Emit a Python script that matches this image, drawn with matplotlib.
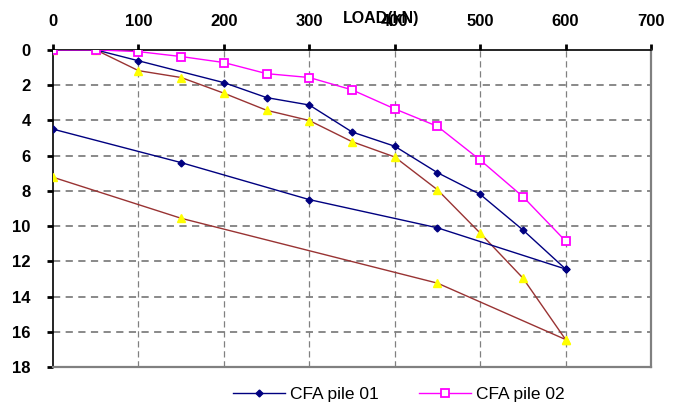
import matplotlib
matplotlib.use('Agg')
import matplotlib.pyplot as plt
from matplotlib.lines import Line2D

plt.rcParams['font.family'] = ['Liberation Sans', 'DejaVu Sans']

# Load steps (kN) and settlements (mm)
load_pile01 = [0, 50, 100, 200, 250, 300, 350, 400, 450, 500, 550, 600]
settle_pile01 = [0, 0, 0.62, 1.86, 2.71, 3.13, 4.66, 5.47, 6.97, 8.2, 10.22, 12.44]
unload_pile01 = [600, 450, 300, 150, 0]
rebound_pile01 = [12.44, 10.1, 8.5, 6.4, 4.5]

load_pile02 = [0, 50, 100, 150, 200, 250, 300, 350, 400, 450, 500, 550, 600]
settle_pile02 = [0, 0, 0.1, 0.38, 0.72, 1.35, 1.57, 2.27, 3.35, 4.34, 6.25, 8.33, 10.85]

load_pile03 = [0, 50, 100, 150, 200, 250, 300, 350, 400, 450, 500, 550, 600]
settle_pile03 = [0, 0, 1.18, 1.57, 2.46, 3.43, 4.01, 5.21, 6.08, 7.94, 10.4, 12.95, 16.44]
unload_pile03 = [600, 450, 150, 0]
rebound_pile03 = [16.44, 13.24, 9.56, 7.23]

x_ticks = [0, 100, 200, 300, 400, 500, 600, 700]
y_ticks = [0, 2, 4, 6, 8, 10, 12, 14, 16, 18]

navy = '#000080'
pink = '#FF00FF'
brown = '#993333'

fig = plt.figure(figsize=(6.78, 4.03), dpi=100, facecolor='white')
ax = fig.add_axes([0.0782, 0.0893, 0.882, 0.787])

ax.plot(load_pile03, settle_pile03, color=brown, lw=1.0, marker='^', ms=6,
        mfc='#FFFF00', mec='#FFFF00', zorder=3)
ax.plot(unload_pile03, rebound_pile03, color=brown, lw=1.0, marker='^', ms=6,
        mfc='#FFFF00', mec='#FFFF00', zorder=3)
ax.plot(load_pile01, settle_pile01, color=navy, lw=1.0, marker='D', ms=3.5,
        mfc=navy, mec=navy, zorder=4)
ax.plot(unload_pile01, rebound_pile01, color=navy, lw=1.0, marker='D', ms=3.5,
        mfc=navy, mec=navy, zorder=4)
ax.plot(load_pile02, settle_pile02, color=pink, lw=1.0, marker='s', ms=6,
        mfc='white', mec=pink, mew=1.3, zorder=5)

ax.set_xlim(0, 700)
ax.set_ylim(18, 0)
ax.set_xticks(x_ticks)
ax.set_yticks(y_ticks)
ax.xaxis.tick_top()
ax.tick_params(axis='both', which='major', direction='out', length=4, width=2,
               color='black', labelsize=12)
ax.tick_params(axis='x', pad=11)
ax.tick_params(axis='y', pad=12)
for lbl in ax.get_xticklabels() + ax.get_yticklabels():
    lbl.set_fontweight('bold')

# dashed grid
for y in y_ticks[1:-1]:
    ax.axhline(y, color='#808080', lw=1.3, ls=(0, (4, 3)), zorder=1)
for x in x_ticks[1:-1]:
    ax.axvline(x, color='#808080', lw=0.9, ls=(0, (5, 3)), zorder=1)

ax.spines['top'].set_color('black')
ax.spines['top'].set_linewidth(1.2)
ax.spines['left'].set_color('black')
ax.spines['left'].set_linewidth(1.2)
ax.spines['right'].set_color('#808080')
ax.spines['right'].set_linewidth(1.6)
ax.spines['bottom'].set_color('#808080')
ax.spines['bottom'].set_linewidth(1.6)

# axis title sits on the tick-label row, over the 400 label
ax.xaxis.set_label_position('top')
ax.set_xlabel('LOAD(kN)', fontsize=11.5, fontweight='bold', va='center')
ax.xaxis.set_label_coords(0.548, 1.1)

handles = [
    Line2D([], [], color=navy, lw=1.0, marker='D', ms=3.5, mfc=navy, mec=navy),
    Line2D([], [], color=pink, lw=1.0, marker='s', ms=6, mfc='white', mec=pink, mew=1.3),
]
leg = ax.legend(handles, ['CFA pile 01', 'CFA pile 02'], ncol=2, frameon=False,
                loc='upper center', bbox_to_anchor=(0.578, -0.012), fontsize=12.5,
                handlelength=3.0, handletextpad=0.3, columnspacing=2.3)

fig.savefig('out.png', dpi=100, facecolor='white')
